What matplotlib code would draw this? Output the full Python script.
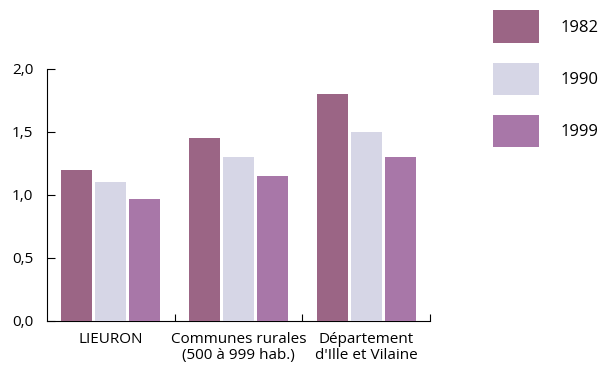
import numpy as np
import matplotlib
matplotlib.use("Agg")
import matplotlib.pyplot as plt
from matplotlib.patches import Patch
from matplotlib.ticker import FixedLocator

plt.rcParams["font.family"] = ["Open Sans", "DejaVu Sans"]

categories = ["LIEURON", "Communes rurales\n(500 à 999 hab.)", "Département\nd'Ille et Vilaine"]
years = ["1982", "1990", "1999"]
v1982 = [1.20, 1.45, 1.80]
v1990 = [1.10, 1.30, 1.50]
v1999 = [0.97, 1.15, 1.30]
colors = ["#9b6585", "#d6d6e6", "#a877a8"]
yticks = [0.0, 0.5, 1.0, 1.5, 2.0]

fig = plt.figure(figsize=(6.03, 3.66), dpi=100)
ax = fig.add_axes([0.078, 0.123, 0.635, 0.6885])

x = np.arange(len(categories))
w, pitch = 0.242, 0.266
for i, (vals, col) in enumerate(zip([v1982, v1990, v1999], colors)):
    ax.bar(x + (i - 1) * pitch, vals, w, color=col, lw=0, zorder=3)

ax.set_xlim(-0.5, 2.5)
ax.set_ylim(0, 2.0)
ax.set_yticks(yticks)
ax.set_yticklabels([f"{t:.1f}".replace(".", ",") for t in yticks])
ax.set_xticks(x)
ax.set_xticklabels(categories, va="top", linespacing=1.12)
ax.tick_params(axis="x", which="major", length=0, pad=8, labelsize=11)
ax.xaxis.set_minor_locator(FixedLocator([0.5, 1.5, 2.5]))
ax.tick_params(axis="x", which="minor", direction="in", length=5, width=0.8)
ax.tick_params(axis="y", direction="in", length=6, width=0.8, pad=10, labelsize=11)
for s in ["top", "right"]:
    ax.spines[s].set_visible(False)
for s in ["left", "bottom"]:
    ax.spines[s].set_linewidth(0.8)

handles = [Patch(facecolor=c, edgecolor="none") for c in colors]
fig.legend(handles, years, loc="upper left", bbox_to_anchor=(0.817, 0.972),
           frameon=False, fontsize=12, handlelength=2.76, handleheight=2.62,
           labelspacing=1.19, handletextpad=1.32, borderpad=0, borderaxespad=0)

fig.savefig("out.png", dpi=100)
